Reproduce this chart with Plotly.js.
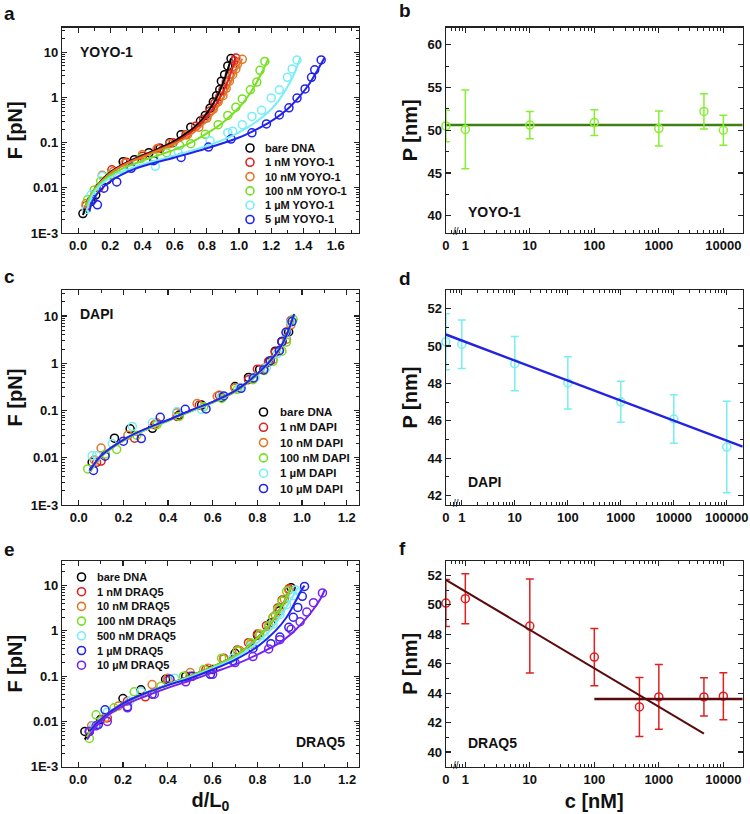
<!DOCTYPE html>
<html>
<head>
<meta charset="utf-8">
<script src="https://cdn.plot.ly/plotly-3.0.1.min.js"></script>
<style>
  body { margin: 0; background: #fff; }
  #chart { width: 750px; height: 814px; }
</style>
</head>
<body>
<div id="chart"></div>
<script>
// ---------- panel a : YOYO-1 force-extension ----------
const yoyoNames = ['bare DNA', '1 nM YOYO-1', '10 nM YOYO-1', '100 nM YOYO-1', '1 µM YOYO-1', '5 µM YOYO-1'];
const yoyoColors = ['#000000', '#e02020', '#e07828', '#77e022', '#77eef8', '#2222ee'];
const yoyoDist = [
  [0.03, 0.08, 0.11, 0.18, 0.28, 0.35, 0.44, 0.51, 0.57, 0.64, 0.70, 0.76, 0.79, 0.82, 0.84, 0.86, 0.88, 0.89, 0.91, 0.93, 0.95],
  [0.05, 0.13, 0.21, 0.30, 0.40, 0.50, 0.59, 0.67, 0.73, 0.78, 0.82, 0.85, 0.88, 0.90, 0.92, 0.94, 0.96, 0.97, 0.98],
  [0.05, 0.15, 0.22, 0.29, 0.40, 0.49, 0.57, 0.68, 0.75, 0.80, 0.84, 0.87, 0.90, 0.92, 0.94, 0.96, 0.98, 0.99, 1.02],
  [0.06, 0.10, 0.14, 0.20, 0.28, 0.39, 0.47, 0.55, 0.63, 0.70, 0.79, 0.87, 0.93, 0.98, 1.02, 1.07, 1.11, 1.13, 1.16],
  [0.05, 0.08, 0.15, 0.27, 0.48, 0.62, 0.82, 0.93, 0.96, 1.02, 1.08, 1.14, 1.20, 1.25, 1.30, 1.33, 1.36],
  [0.09, 0.12, 0.16, 0.24, 0.33, 0.47, 0.64, 0.81, 0.95, 1.08, 1.17, 1.25, 1.31, 1.36, 1.41, 1.45, 1.47, 1.51]
];
const yoyoForce = [
  [0.0027, 0.005, 0.007, 0.015, 0.038, 0.042, 0.06, 0.075, 0.1, 0.15, 0.22, 0.3, 0.4, 0.58, 0.8, 1.1, 1.5, 2.3, 3.2, 5, 7.3],
  [0.004, 0.01, 0.025, 0.037, 0.05, 0.075, 0.1, 0.15, 0.23, 0.33, 0.5, 0.75, 1.05, 1.5, 2.2, 3.2, 4.8, 6.5, 7.5],
  [0.0045, 0.019, 0.023, 0.035, 0.055, 0.073, 0.095, 0.15, 0.22, 0.35, 0.55, 0.8, 1.1, 1.6, 2.3, 3.2, 4.3, 5.5, 7.0],
  [0.0055, 0.009, 0.014, 0.019, 0.026, 0.045, 0.048, 0.06, 0.088, 0.095, 0.153, 0.25, 0.4, 0.61, 0.93, 1.48, 2.2, 4.0, 6.3],
  [0.0033, 0.007, 0.018, 0.025, 0.03, 0.065, 0.11, 0.166, 0.18, 0.25, 0.38, 0.52, 0.98, 1.48, 2.8, 4.3, 6.8],
  [0.0055, 0.0042, 0.0098, 0.0135, 0.027, 0.04, 0.047, 0.08, 0.12, 0.165, 0.26, 0.41, 0.59, 0.97, 1.55, 2.8, 4.1, 6.8]
];
const yoyoFitDist = [
  [0.03, 0.1, 0.2, 0.3, 0.4, 0.5, 0.6, 0.7, 0.75, 0.8, 0.85, 0.88, 0.91, 0.93, 0.95],
  [0.04, 0.1, 0.2, 0.3, 0.4, 0.5, 0.6, 0.7, 0.75, 0.8, 0.85, 0.9, 0.93, 0.96, 0.98],
  [0.04, 0.1, 0.2, 0.3, 0.4, 0.5, 0.6, 0.7, 0.8, 0.85, 0.9, 0.95, 0.98, 1.0, 1.02],
  [0.05, 0.1, 0.2, 0.3, 0.4, 0.5, 0.6, 0.7, 0.8, 0.9, 1.0, 1.05, 1.1, 1.14, 1.18],
  [0.05, 0.1, 0.2, 0.3, 0.4, 0.6, 0.8, 0.9, 1.0, 1.1, 1.2, 1.25, 1.3, 1.34, 1.38],
  [0.07, 0.1, 0.2, 0.3, 0.4, 0.6, 0.8, 1.0, 1.1, 1.2, 1.3, 1.38, 1.44, 1.49, 1.53]
];
const yoyoFitForce = [
  [0.0025, 0.009, 0.022, 0.036, 0.052, 0.074, 0.11, 0.19, 0.27, 0.45, 0.85, 1.4, 2.6, 4.2, 7.3],
  [0.0035, 0.009, 0.021, 0.035, 0.05, 0.07, 0.1, 0.17, 0.24, 0.38, 0.65, 1.3, 2.3, 4.5, 7.5],
  [0.0035, 0.009, 0.021, 0.034, 0.048, 0.068, 0.095, 0.15, 0.3, 0.5, 0.95, 2.2, 3.8, 5.3, 7.2],
  [0.004, 0.009, 0.019, 0.029, 0.04, 0.053, 0.07, 0.1, 0.16, 0.28, 0.6, 1.0, 1.9, 3.5, 7.0],
  [0.003, 0.008, 0.017, 0.025, 0.033, 0.052, 0.085, 0.115, 0.17, 0.28, 0.55, 0.9, 1.7, 3.2, 7.5],
  [0.003, 0.006, 0.014, 0.022, 0.03, 0.047, 0.075, 0.13, 0.19, 0.3, 0.55, 1.1, 2.1, 4.2, 7.5]
];

// ---------- panel c : DAPI force-extension ----------
const dapiNames = ['bare DNA', '1 nM DAPI', '10 nM DAPI', '100 nM DAPI', '1 µM DAPI', '10 µM DAPI'];
const dapiColors = ['#000000', '#e02020', '#e07828', '#77e022', '#77eef8', '#2222ee'];
const dapiDist = [
  [0.06, 0.16, 0.23, 0.33, 0.45, 0.55, 0.64, 0.70, 0.76, 0.81, 0.85, 0.88, 0.91, 0.94],
  [0.08, 0.10, 0.25, 0.34, 0.44, 0.54, 0.63, 0.70, 0.76, 0.80, 0.85, 0.88, 0.91, 0.93, 0.95],
  [0.07, 0.10, 0.22, 0.35, 0.44, 0.53, 0.62, 0.70, 0.78, 0.83, 0.87, 0.90, 0.93, 0.95],
  [0.04, 0.12, 0.17, 0.26, 0.35, 0.45, 0.56, 0.64, 0.71, 0.78, 0.83, 0.87, 0.91, 0.93, 0.96],
  [0.06, 0.08, 0.15, 0.24, 0.33, 0.44, 0.55, 0.64, 0.72, 0.79, 0.84, 0.89, 0.93, 0.95],
  [0.066, 0.118, 0.20, 0.28, 0.365, 0.477, 0.57, 0.649, 0.727, 0.783, 0.828, 0.858, 0.898, 0.91, 0.928, 0.955]
];
const dapiForce = [
  [0.008, 0.026, 0.041, 0.042, 0.08, 0.13, 0.19, 0.32, 0.5, 0.74, 1.05, 1.8, 2.9, 4.6],
  [0.008, 0.0085, 0.026, 0.05, 0.075, 0.13, 0.21, 0.3, 0.45, 0.75, 1.1, 1.7, 2.8, 4.6, 8.0],
  [0.009, 0.016, 0.03, 0.055, 0.09, 0.14, 0.2, 0.3, 0.48, 0.78, 1.2, 1.9, 3.2, 6.5],
  [0.0058, 0.012, 0.015, 0.03, 0.05, 0.075, 0.12, 0.18, 0.28, 0.45, 0.7, 1.1, 1.8, 2.8, 8.5],
  [0.011, 0.011, 0.02, 0.046, 0.055, 0.095, 0.105, 0.2, 0.3, 0.5, 0.8, 1.6, 4.4, 7.5],
  [0.0054, 0.0108, 0.0224, 0.0255, 0.072, 0.106, 0.108, 0.203, 0.294, 0.488, 0.72, 1.13, 1.84, 2.88, 4.47, 7.6]
];
const dapiFitDist = [0.05, 0.1, 0.2, 0.3, 0.4, 0.5, 0.6, 0.7, 0.75, 0.8, 0.85, 0.9, 0.93, 0.965];
const dapiFitForce = [
  [0.0052, 0.011, 0.024, 0.04, 0.062, 0.098, 0.15, 0.26, 0.38, 0.6, 1.0, 2.0, 3.8, 10.5],
  [0.0051, 0.011, 0.024, 0.04, 0.062, 0.097, 0.15, 0.25, 0.37, 0.59, 1.0, 2.0, 3.9, 10.8],
  [0.005, 0.0105, 0.023, 0.039, 0.061, 0.096, 0.148, 0.25, 0.37, 0.58, 0.98, 1.95, 3.8, 10.6],
  [0.005, 0.0105, 0.023, 0.039, 0.06, 0.095, 0.147, 0.25, 0.36, 0.58, 0.98, 1.95, 3.7, 10.2],
  [0.0052, 0.011, 0.024, 0.04, 0.062, 0.098, 0.15, 0.26, 0.38, 0.6, 1.0, 2.0, 3.8, 10.5],
  [0.0053, 0.011, 0.024, 0.041, 0.063, 0.1, 0.152, 0.26, 0.38, 0.6, 1.02, 2.05, 3.9, 11.0]
];

// ---------- panel e : DRAQ5 force-extension ----------
const draqNames = ['bare DNA', '1 nM DRAQ5', '10 nM DRAQ5', '100 nM DRAQ5', '500 nM DRAQ5', '1 µM DRAQ5', '10 µM DRAQ5'];
const draqColors = ['#000000', '#e02020', '#e07828', '#77e022', '#77eef8', '#2222ee', '#7722ee'];
const draqDist = [
  [0.03, 0.10, 0.20, 0.28, 0.39, 0.48, 0.60, 0.70, 0.80, 0.86, 0.90, 0.95],
  [0.05, 0.13, 0.22, 0.30, 0.40, 0.50, 0.57, 0.65, 0.71, 0.76, 0.80, 0.84, 0.87, 0.89, 0.91, 0.94],
  [0.06, 0.12, 0.18, 0.33, 0.40, 0.50, 0.58, 0.65, 0.72, 0.77, 0.81, 0.85, 0.88, 0.90, 0.92, 0.94],
  [0.05, 0.08, 0.16, 0.25, 0.37, 0.47, 0.56, 0.64, 0.71, 0.77, 0.81, 0.85, 0.87, 0.89, 0.91, 0.93],
  [0.07, 0.13, 0.23, 0.28, 0.43, 0.59, 0.69, 0.77, 0.83, 0.87, 0.90, 0.93, 0.96, 0.97],
  [0.05, 0.09, 0.12, 0.22, 0.33, 0.41, 0.51, 0.59, 0.69, 0.78, 0.86, 0.90, 0.94, 0.96, 0.98, 1.00, 1.01],
  [0.05, 0.08, 0.13, 0.22, 0.34, 0.48, 0.60, 0.70, 0.78, 0.85, 0.90, 0.95, 0.99, 1.02, 1.05, 1.09]
];
const draqForce = [
  [0.006, 0.011, 0.032, 0.05, 0.085, 0.1, 0.14, 0.32, 0.8, 1.5, 2.8, 9.0],
  [0.006, 0.012, 0.028, 0.035, 0.08, 0.1, 0.14, 0.25, 0.38, 0.55, 0.85, 1.3, 2.0, 3.2, 4.8, 8.5],
  [0.008, 0.012, 0.022, 0.065, 0.09, 0.12, 0.15, 0.24, 0.37, 0.5, 0.8, 1.25, 2.2, 3.2, 5.0, 8.0],
  [0.0042, 0.014, 0.02, 0.045, 0.06, 0.1, 0.14, 0.25, 0.36, 0.55, 0.85, 1.3, 2.0, 3.0, 4.5, 7.5],
  [0.008, 0.016, 0.028, 0.045, 0.09, 0.11, 0.25, 0.45, 0.8, 1.4, 2.3, 3.8, 6.0, 8.0],
  [0.006, 0.0085, 0.018, 0.021, 0.04, 0.085, 0.1, 0.11, 0.22, 0.41, 0.52, 0.73, 1.2, 2.0, 3.3, 5.8, 9.6],
  [0.006, 0.008, 0.01, 0.02, 0.04, 0.075, 0.11, 0.2, 0.27, 0.4, 0.64, 1.08, 1.6, 2.6, 4.2, 6.9]
];
const draqFitDist = [
  [0.03, 0.06, 0.1, 0.2, 0.3, 0.4, 0.5, 0.6, 0.7, 0.75, 0.8, 0.85, 0.9, 0.93, 0.95],
  [0.04, 0.06, 0.1, 0.2, 0.3, 0.4, 0.5, 0.6, 0.7, 0.75, 0.8, 0.85, 0.9, 0.93, 0.95],
  [0.04, 0.06, 0.1, 0.2, 0.3, 0.4, 0.5, 0.6, 0.7, 0.75, 0.8, 0.85, 0.9, 0.93, 0.95],
  [0.04, 0.06, 0.1, 0.2, 0.3, 0.4, 0.5, 0.6, 0.7, 0.75, 0.8, 0.85, 0.9, 0.93, 0.95],
  [0.05, 0.1, 0.2, 0.3, 0.4, 0.5, 0.6, 0.7, 0.8, 0.85, 0.9, 0.95, 0.98],
  [0.05, 0.1, 0.2, 0.3, 0.4, 0.5, 0.6, 0.7, 0.8, 0.88, 0.93, 0.97, 1.0, 1.01],
  [0.04, 0.1, 0.2, 0.3, 0.4, 0.5, 0.6, 0.7, 0.8, 0.9, 0.95, 1.0, 1.05, 1.08, 1.1]
];
const draqFitForce = [
  [0.004, 0.007, 0.011, 0.025, 0.042, 0.065, 0.1, 0.16, 0.28, 0.42, 0.7, 1.3, 3.0, 5.5, 9.5],
  [0.0045, 0.007, 0.011, 0.025, 0.042, 0.065, 0.1, 0.16, 0.28, 0.42, 0.7, 1.3, 3.0, 5.5, 9.5],
  [0.0045, 0.007, 0.011, 0.025, 0.042, 0.065, 0.1, 0.16, 0.28, 0.42, 0.7, 1.3, 3.0, 5.5, 9.5],
  [0.0045, 0.007, 0.011, 0.025, 0.042, 0.065, 0.1, 0.16, 0.28, 0.42, 0.7, 1.3, 3.0, 5.5, 9.5],
  [0.006, 0.011, 0.025, 0.042, 0.065, 0.095, 0.15, 0.25, 0.55, 0.95, 2.0, 5.0, 9.0],
  [0.006, 0.011, 0.025, 0.042, 0.063, 0.09, 0.14, 0.23, 0.45, 1.0, 2.0, 4.5, 8.5, 10.0],
  [0.004, 0.01, 0.022, 0.036, 0.055, 0.08, 0.12, 0.18, 0.3, 0.55, 0.85, 1.5, 3.0, 5.0, 8.0]
];

// ---------- panels b, d, f : persistence length vs concentration ----------
const yoyoConc = [0, 1, 10, 100, 1000, 5000, 10000];
const yoyoP = [50.5, 50.1, 50.6, 50.9, 50.2, 52.2, 50.0];
const yoyoErr = [1.85, 4.6, 1.6, 1.5, 2.05, 2.05, 1.75];
const yoyoFitConc = [0, 20000];
const yoyoFitP = [50.6, 50.6];

const dapiConc = [0, 1, 10, 100, 1000, 10000, 100000];
const dapiP = [50.23, 50.1, 49.06, 48.03, 47.02, 46.1, 44.6];
const dapiErr = [1.5, 1.3, 1.45, 1.4, 1.1, 1.3, 2.45];
const dapiFitConc = [0, 200000];
const dapiFitP = [50.62, 44.62];

const draqConc = [0, 1, 10, 100, 500, 1000, 5000, 10000];
const draqP = [50.12, 50.42, 48.56, 46.45, 43.06, 43.74, 43.74, 43.79];
const draqErr = [1.6, 1.7, 3.2, 1.95, 2.0, 2.2, 1.3, 1.6];
const draqFit1Conc = [0, 5000];
const draqFit1P = [51.7, 41.25];
const draqFit2Conc = [100, 20000];
const draqFit2P = [43.6, 43.6];

const concTicks = [0, 1, 10, 100, 1000, 10000, 100000];

// ---------- helpers ----------
const FONT = 'Liberation Sans, Arial, Helvetica, sans-serif';
const W = 750, H = 814;
const px = x => x / W;
const py = y => 1 - y / H;
const zeroPos = c => (c === 0 ? 0.5 : c);   // "0" sits at the broken left end of the log axis
const logStart = Math.log10(0.5) - 0.003;

let traces = [];

function curvePanel(names, colors, dist, force, fitDist, fitForce, xa, ya) {
  names.forEach((n, i) => {
    traces.push({
      x: dist[i], y: force[i], xaxis: xa, yaxis: ya, name: n,
      type: 'scatter', mode: 'markers', showlegend: false,
      marker: { symbol: 'circle-open', size: 8, color: colors[i], line: { width: 1.5 } }
    });
  });
  names.forEach((n, i) => {
    traces.push({
      x: Array.isArray(fitDist[0]) ? fitDist[i] : fitDist, y: fitForce[i],
      xaxis: xa, yaxis: ya, type: 'scatter', mode: 'lines', showlegend: false,
      line: { color: colors[i], width: 2, shape: 'spline' }
    });
  });
}

function persPanel(conc, p, err, color, xa, ya) {
  traces.push({
    x: conc.map(zeroPos), y: p, xaxis: xa, yaxis: ya,
    type: 'scatter', mode: 'markers', showlegend: false, cliponaxis: false,
    marker: { symbol: 'circle-open', size: 8, color: color, line: { width: 1.5 } },
    error_y: { type: 'data', array: err, color: color, thickness: 1.5, width: 4 }
  });
}

function fitLine(conc, p, color, width, xa, ya) {
  traces.push({
    x: conc.map(zeroPos), y: p, xaxis: xa, yaxis: ya,
    type: 'scatter', mode: 'lines', showlegend: false,
    line: { color: color, width: width }
  });
}

curvePanel(yoyoNames, yoyoColors, yoyoDist, yoyoForce, yoyoFitDist, yoyoFitForce, 'x', 'y');
curvePanel(dapiNames, dapiColors, dapiDist, dapiForce, dapiFitDist, dapiFitForce, 'x3', 'y3');
curvePanel(draqNames, draqColors, draqDist, draqForce, draqFitDist, draqFitForce, 'x5', 'y5');

fitLine(yoyoFitConc, yoyoFitP, '#3f7f14', 2.5, 'x2', 'y2');
persPanel(yoyoConc, yoyoP, yoyoErr, '#88ee33', 'x2', 'y2');
persPanel(dapiConc, dapiP, dapiErr, '#77eef0', 'x4', 'y4');
fitLine(dapiFitConc, dapiFitP, '#2222e0', 2.5, 'x4', 'y4');
persPanel(draqConc, draqP, draqErr, '#e02020', 'x6', 'y6');
fitLine(draqFit1Conc, draqFit1P, '#5a0a0a', 2, 'x6', 'y6');
fitLine(draqFit2Conc, draqFit2P, '#5a0a0a', 2.5, 'x6', 'y6');

// ---------- axes ----------
const tickFont = { family: FONT, size: 13, weight: 'bold', color: '#111' };
const titleFont = { family: FONT, size: 20, weight: 'bold', color: '#111' };

function frame(extra) {
  return Object.assign({
    showline: true, linecolor: '#222', linewidth: 1.2, mirror: 'ticks',
    ticks: 'inside', ticklen: 5, tickwidth: 1.2, tickcolor: '#222',
    showgrid: false, zeroline: false, tickfont: tickFont, fixedrange: true
  }, extra);
}

const logMinor = [];
for (let e = -3; e <= 1; e++) for (let k = 2; k <= 9; k++) logMinor.push(k * Math.pow(10, e));
const concMinor = [];
for (let e = -1; e <= 5; e++) for (let k = 2; k <= 9; k++) concMinor.push(k * Math.pow(10, e));

function forceY(dom, anchor, title) {
  return frame({
    domain: dom, anchor: anchor, type: 'log', range: [-3, 1.55],
    tickmode: 'array', tickvals: [0.001, 0.01, 0.1, 1, 10], ticktext: ['1E-3', '0.01', '0.1', '1', '10'],
    minor: { tickmode: 'array', tickvals: logMinor, ticks: 'inside', ticklen: 3, tickwidth: 1, tickcolor: '#222', showgrid: false },
    title: { text: title, font: titleFont, standoff: 2 }
  });
}
function distX(dom, anchor, range, title) {
  const ax = frame({
    domain: dom, anchor: anchor, range: range, tick0: 0, dtick: 0.2, tickformat: '.1f',
    minor: { dtick: 0.1, ticks: 'inside', ticklen: 3, tickwidth: 1, tickcolor: '#222', showgrid: false }
  });
  if (title) ax.title = { text: title, font: titleFont, standoff: 8 };
  return ax;
}
function concX(dom, anchor, range, title) {
  const vals = concTicks.filter(c => Math.log10(zeroPos(c)) <= range[1]);
  const ax = frame({
    domain: dom, anchor: anchor, type: 'log', range: range,
    tickmode: 'array', tickvals: vals.map(zeroPos), ticktext: vals.map(String),
    minor: { tickmode: 'array', tickvals: concMinor, ticks: 'inside', ticklen: 3, tickwidth: 1, tickcolor: '#222', showgrid: false }
  });
  if (title) ax.title = { text: title, font: titleFont, standoff: 8 };
  return ax;
}
function persY(dom, anchor, range, dtick, minorDtick) {
  return frame({
    domain: dom, anchor: anchor, range: range, dtick: dtick,
    minor: { dtick: minorDtick, ticks: 'inside', ticklen: 3, tickwidth: 1, tickcolor: '#222', showgrid: false },
    title: { text: 'P [nm]', font: titleFont, standoff: 4 }
  });
}

const colL = [px(62), px(359)];
const colR = [px(445.7), px(742.7)];
const rowA = [py(233), py(27.5)];
const rowC = [py(505), py(290)];
const rowE = [py(766.7), py(560.7)];

// ---------- annotations and legend keys ----------
function note(text, x, y, size, extra) {
  return Object.assign({
    text: text, xref: 'paper', yref: 'paper', x: px(x), y: py(y),
    showarrow: false, xanchor: 'left', yanchor: 'middle',
    font: { family: FONT, size: size, weight: 'bold', color: '#111' }
  }, extra || {});
}

const annotations = [
  note('a', 2, 13, 19), note('b', 397, 11, 19), note('c', 2, 277, 19),
  note('d', 397, 278, 19), note('e', 2, 549, 19), note('f', 397, 548, 19),
  note('YOYO-1', 78, 52, 14), note('YOYO-1', 466, 212, 14),
  note('DAPI', 78, 314, 14), note('DAPI', 466, 482, 14),
  note('DRAQ5', 294, 742, 14), note('DRAQ5', 466, 743, 14),
  note('//', 451, 231, 10, { font: { family: FONT, size: 10, color: '#111' } }),
  note('//', 451, 503, 10, { font: { family: FONT, size: 10, color: '#111' } }),
  note('//', 451, 765, 10, { font: { family: FONT, size: 10, color: '#111' } })
];
const shapes = [];

// legend rows: ring key + label, laid out in pixel steps
function legendBlock(names, colors, keyX, textX, topY, step, size) {
  names.forEach((n, i) => {
    const y = topY + i * step;
    annotations.push(note(n, textX, y, size));
    shapes.push({
      type: 'circle', xref: 'paper', yref: 'paper',
      xsizemode: 'pixel', ysizemode: 'pixel', xanchor: px(keyX), yanchor: py(y),
      x0: -4, x1: 4, y0: -4, y1: 4,
      line: { color: colors[i], width: 1.6 }, fillcolor: 'rgba(0,0,0,0)'
    });
  });
}
legendBlock(yoyoNames, yoyoColors, 250, 263, 148, 14.3, 11);
legendBlock(dapiNames, dapiColors, 263.5, 278, 412, 15.3, 11.5);
legendBlock(draqNames, draqColors, 81.5, 95, 577, 14.7, 11);

const layout = {
  width: W, height: H,
  margin: { l: 0, r: 0, t: 0, b: 0 },
  paper_bgcolor: '#fff', plot_bgcolor: '#fff',
  showlegend: false,
  font: { family: FONT },
  xaxis: distX(colL, 'y', [-0.1, 1.745]),
  yaxis: forceY(rowA, 'x', 'F [pN]'),
  xaxis2: concX(colR, 'y2', [logStart, 4.3]),
  yaxis2: persY(rowA, 'x2', [38, 62], 5, 2.5),
  xaxis3: distX(colL, 'y3', [-0.075, 1.255]),
  yaxis3: forceY(rowC, 'x3', 'F [pN]'),
  xaxis4: concX(colR, 'y4', [logStart, 5.3]),
  yaxis4: persY(rowC, 'x4', [41.5, 53], 2, 1),
  xaxis5: distX(colL, 'y5', [-0.072, 1.253], 'd/L<sub>0</sub>'),
  yaxis5: forceY(rowE, 'x5', 'F [pN]'),
  xaxis6: concX(colR, 'y6', [logStart, 4.3], 'c [nM]'),
  yaxis6: persY(rowE, 'x6', [39, 53], 2, 1),
  annotations: annotations,
  shapes: shapes
};

Plotly.newPlot('chart', traces, layout, { staticPlot: true, displayModeBar: false });
</script>
</body>
</html>
